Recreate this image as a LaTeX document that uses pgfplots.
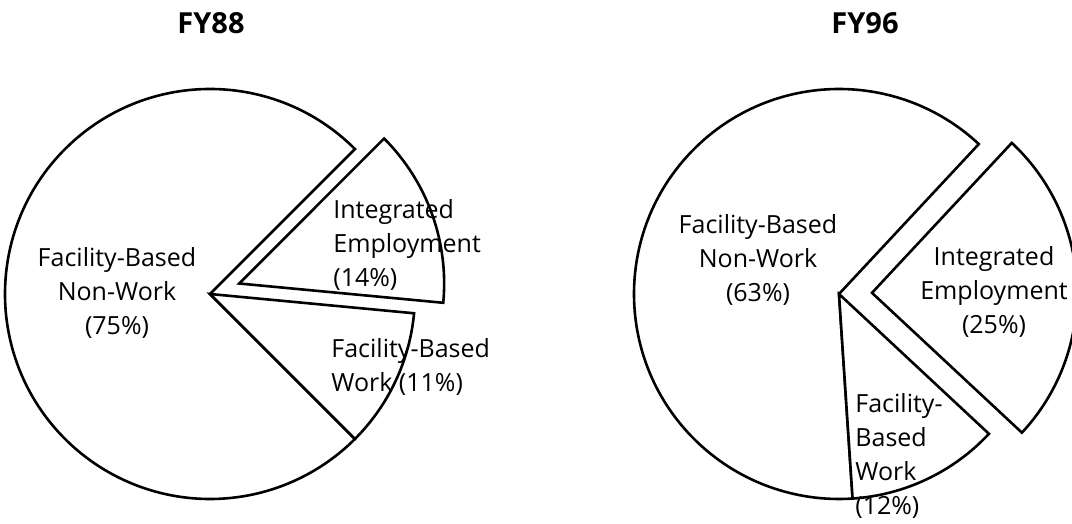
\documentclass[border=0pt]{standalone}
\usepackage{pgfplots}
\usepackage{pgfplotstable}
\pgfplotsset{compat=1.18}
\usepackage{fontspec}
\setmainfont{Open Sans}

% share of each slice, in drawing order (counterclockwise), and how far it is pulled out (px)
\pgfplotstableread{
slice pct explode
NonWork 75 0
Work 11 0
Integrated 14 31
}\fyeightyeight
\pgfplotstableread{
slice pct explode
NonWork 63 0
Work 12 0
Integrated 25 33
}\fyninetysix

\def\R{102.5pt}% pie radius (205 px at 0.5pt per px)

% #1 table, #2 #3 centre in axis units, #4 start angle
\newcommand\pie[4]{%
  \pgfplotsextra{%
    \xdef\acc{#4}%
    \pgfplotstablegetrowsof{#1}%
    \pgfmathtruncatemacro\lastrow{\pgfplotsretval-1}%
    \foreach \r in {0,...,\lastrow}{%
      \pgfplotstablegetelem{\r}{pct}\of#1\let\p\pgfplotsretval
      \pgfplotstablegetelem{\r}{explode}\of#1\let\ex\pgfplotsretval
      \pgfmathsetmacro\a{\acc}%
      \pgfmathsetmacro\b{\acc+3.6*\p}%
      \pgfmathsetmacro\m{(\a+\b)/2}%
      \pgfmathsetmacro\exd{\ex*0.5}%
      \draw[line width=1.3pt, fill=white, line join=miter]
        (axis cs:#2,#3) ++(\m:\exd pt) -- ++(\a:\R)
        arc[start angle=\a, end angle=\b, radius=\R] -- cycle;
      \xdef\acc{\b}%
    }%
  }%
}

\tikzset{
  lbl/.style={font=\fontsize{12.5}{17}\selectfont},
  ttl/.style={font=\fontsize{14.5}{17}\bfseries\selectfont},
}

\begin{document}
\begin{tikzpicture}
\begin{axis}[
    x=0.5pt, y=0.5pt,
    xmin=0, xmax=1072, ymin=0, ymax=524,
    hide axis,
    clip=true,
]
\pie{\fyeightyeight}{210}{230}{45}
\pie{\fyninetysix}{839}{230}{47}

\node[ttl] at (axis cs:211,501) {FY88};
\node[ttl] at (axis cs:865,501) {FY96};

\node[lbl, align=center] at (axis cs:117,231) {Facility-Based\\Non-Work\\(75\%)};
\node[lbl, align=left, anchor=west, inner sep=0pt] at (axis cs:333,279) {Integrated\\Employment\\(14\%)};
\node[lbl, align=left, anchor=west, inner sep=0pt] at (axis cs:331,157) {Facility-Based\\Work (11\%)};

\node[lbl, align=center] at (axis cs:758,264) {Facility-Based\\Non-Work\\(63\%)};
\node[lbl, align=center] at (axis cs:994,232) {Integrated\\Employment\\(25\%)};
\node[lbl, align=left, anchor=west, inner sep=0pt] at (axis cs:855,68) {Facility-\\Based\\Work\\(12\%)};
\end{axis}
\pgfresetboundingbox
\useasboundingbox (current axis.south west) rectangle (current axis.north east);
\end{tikzpicture}
\end{document}
